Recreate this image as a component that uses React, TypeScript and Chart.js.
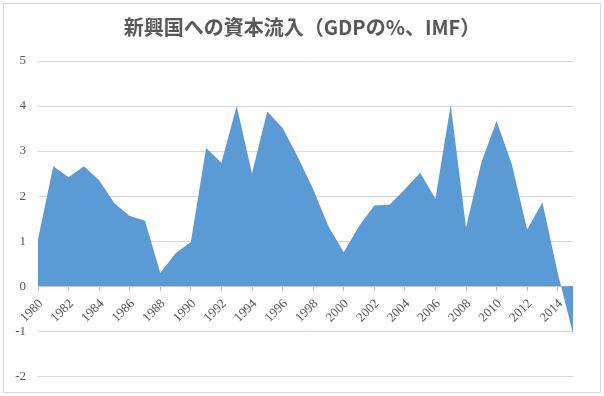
import React, { useEffect, useRef } from "react";
import { Chart, registerables } from "chart.js";

Chart.register(...registerables);

const TITLE = "新興国への資本流入（GDPの%、IMF）";

const years: string[] = [
  "1980", "1981", "1982", "1983", "1984", "1985", "1986", "1987", "1988", "1989",
  "1990", "1991", "1992", "1993", "1994", "1995", "1996", "1997", "1998", "1999",
  "2000", "2001", "2002", "2003", "2004", "2005", "2006", "2007", "2008", "2009",
  "2010", "2011", "2012", "2013", "2014", "2015",
];

const inflows: number[] = [
  1.04, 2.66, 2.42, 2.66, 2.35, 1.84, 1.56, 1.45, 0.29, 0.73,
  0.98, 3.07, 2.74, 4.0, 2.5, 3.88, 3.51, 2.87, 2.15, 1.33,
  0.75, 1.33, 1.79, 1.81, 2.15, 2.52, 1.94, 4.03, 1.3, 2.74,
  3.67, 2.7, 1.26, 1.86, 0.3, -1.05,
];

const yMin = -2;
const yMax = 5;

const framePlugin = {
  id: "frameAndTitle",
  afterDraw(chart: any) {
    const ctx = chart.ctx;
    ctx.save();
    ctx.strokeStyle = "#d9d9d9";
    ctx.lineWidth = 1;
    ctx.strokeRect(3.5, 3.5, 597, 389);
    ctx.fillStyle = "#595959";
    ctx.font = "bold 20px 'Noto Sans CJK JP', sans-serif";
    ctx.textAlign = "center";
    ctx.textBaseline = "middle";
    ctx.fillText(TITLE, 302, 27);
    ctx.restore();
  },
};

export default function App() {
  const ref = useRef<HTMLCanvasElement | null>(null);

  useEffect(() => {
    document.body.style.margin = "0";
    if (!ref.current) return;
    const labelFont = { family: "'Liberation Serif', 'DejaVu Serif', serif", size: 13 };
    const chart = new Chart(ref.current, {
      type: "line",
      data: {
        labels: years,
        datasets: [
          {
            data: inflows,
            fill: "origin",
            backgroundColor: "#5b9bd5",
            borderColor: "#5b9bd5",
            borderWidth: 0,
            pointRadius: 0,
            tension: 0,
          },
        ],
      },
      options: {
        responsive: false,
        animation: false,
        layout: { padding: { top: 61, left: 0, right: 31, bottom: 19 } },
        plugins: {
          legend: { display: false },
          tooltip: { enabled: false },
          title: { display: false },
        },
        scales: {
          x: {
            type: "category",
            position: { y: 0 } as any,
            z: 1,
            grid: {
              drawOnChartArea: false,
              drawTicks: true,
              tickLength: 4,
              color: (c: any) => (c.index % 2 === 0 ? "#bfbfbf" : "rgba(0,0,0,0)"),
            },
            border: { display: true, color: "#d9d9d9" },
            ticks: {
              autoSkip: false,
              minRotation: 45,
              maxRotation: 45,
              padding: 6,
              labelOffset: 3,
              color: "#595959",
              font: labelFont,
              callback: (_v: any, i: number) => (i % 2 === 0 ? years[i] : ""),
            },
          },
          y: {
            min: yMin,
            max: yMax,
            afterFit: (scale: any) => {
              scale.width = 38;
            },
            grid: { color: "#d9d9d9", drawTicks: false },
            border: { display: false },
            ticks: {
              stepSize: 1,
              padding: 12,
              color: "#595959",
              font: labelFont,
            },
          },
        },
      },
      plugins: [framePlugin],
    });
    return () => chart.destroy();
  }, []);

  return (
    <div style={{ position: "absolute", left: 0, top: 0, width: 604, height: 396 }}>
      <canvas ref={ref} width={604} height={396} />
    </div>
  );
}
